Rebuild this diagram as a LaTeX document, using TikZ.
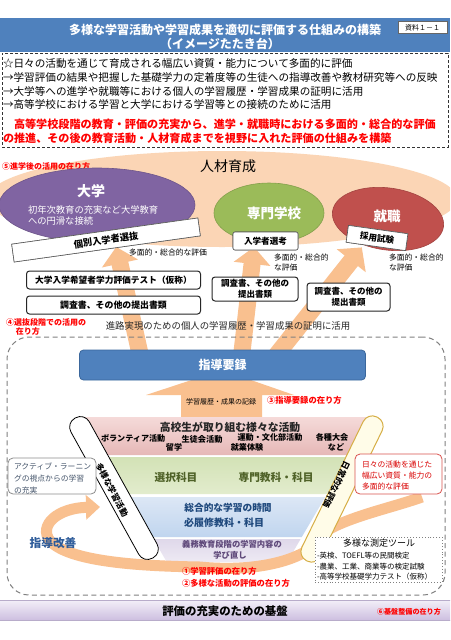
\documentclass[tikz,border=0pt]{standalone}
\usepackage{fontspec}
\setmainfont{Noto Sans CJK JP}
\usetikzlibrary{arrows.meta,calc,shapes.geometric}
\newcommand\fsz[1]{\fontsize{#1pt}{#1pt}\selectfont}
\newcommand\fszl[2]{\fontsize{#1pt}{#2pt}\selectfont}
\definecolor{titleblue}{HTML}{4F81BD}
\definecolor{titleedge}{HTML}{3B679C}
\definecolor{peachbg}{HTML}{FBD5B5}
\definecolor{arrpeach}{HTML}{F9C08F}
\definecolor{univ}{HTML}{8064A2}
\definecolor{senmoncol}{HTML}{9BBB59}
\definecolor{shoku}{HTML}{C0504D}
\definecolor{pinkL}{HTML}{F5DAD9}
\definecolor{pinkD}{HTML}{E6B8B7}
\definecolor{greenL}{HTML}{E2ECCD}
\definecolor{greenD}{HTML}{D3E2B6}
\definecolor{blueL}{HTML}{DCE7F5}
\definecolor{blueD}{HTML}{C0D5EF}
\definecolor{lavL}{HTML}{EEEAF4}
\definecolor{lavD}{HTML}{DFD8EA}
\definecolor{greentext}{HTML}{4F6228}
\definecolor{bluetext}{HTML}{1F497D}
\definecolor{purpletext}{HTML}{5F497A}
\definecolor{kaizenblue}{HTML}{2E5C9A}
\definecolor{pillgold}{HTML}{D6AE45}
\definecolor{pillfill}{HTML}{FFFCE8}
\definecolor{redbox}{HTML}{D9534F}
\definecolor{activetext}{HTML}{44546A}
\definecolor{barL}{HTML}{F3EFF8}
\definecolor{barD}{HTML}{CDBFE0}
\begin{document}
\begin{tikzpicture}[x=1pt,y=-1pt,every node/.style={inner sep=0pt,outer sep=0pt}]
\tikzset{
  card/.style={draw=black!65, fill=white, line width=0.6pt, font=\bfseries\fsz{#1}},
  wbox/.style={draw=black!85, fill=white, line width=1pt, rounded corners=3pt, align=center},
  bigarr/.style={draw=arrpeach, line width=17pt, -{Triangle[width=36pt,length=17pt]}},
  redlbl/.style={text=red, font=\bfseries\fsz{#1}, anchor=west},
  whitetxt/.style={text=white, font=\bfseries\fsz{#1}},
  lbl/.style={font=\fsz{#1}}
}
\useasboundingbox (0,0) rectangle (450,640);
\clip (0,0) rectangle (450,640);
\fill[white] (0,0) rectangle (450,640);

% ---------- title ----------
\node[fill=titleblue, minimum width=450, minimum height=34, anchor=north west] (titlebar) at (0,18) {};
\node[whitetxt=12] (title1) at (225,30) {多様な学習活動や学習成果を適切に評価する仕組みの構築};
\node[whitetxt=12] (title2) at (220,44) {（イメージたたき台）};
\node[draw=black!60, fill=white, minimum width=49, minimum height=12, font=\fsz{7}] (shiryo) at (422.5,27.5) {資料１－１};

% ---------- intro box ----------
\node[draw=black!80, dashed, dash pattern=on 3pt off 2pt, line width=0.9pt, minimum width=446, minimum height=94, anchor=north west] (intro) at (2,53) {};
\node[lbl=10.6, anchor=west] (l1) at (3,63) {☆日々の活動を通じて育成される幅広い資質・能力について多面的に評価};
\node[lbl=10.6, anchor=west] (l2) at (3,77) {→学習評価の結果や把握した基礎学力の定着度等の生徒への指導改善や教材研究等への反映};
\node[lbl=10.6, anchor=west] (l3) at (3,91) {→大学等への進学や就職等における個人の学習履歴・学習成果の証明に活用};
\node[lbl=10.6, anchor=west] (l4) at (3,104) {→高等学校における学習と大学における学習等との接続のために活用};
\node[redlbl=11.1] (r1) at (14,124) {高等学校段階の教育・評価の充実から、進学・就職時における多面的・総合的な評価};
\node[redlbl=11.1] (r2) at (3,138) {の推進、その後の教育活動・人材育成までを視野に入れた評価の仕組みを構築};

% ---------- 人材育成 ----------
\node[ellipse, fill=peachbg, minimum width=470, minimum height=96] (jinzai) at (222,199) {};
\node[lbl=14] (jinzaitext) at (228,166) {人材育成};
\node[redlbl=8] (c5) at (2,166) {⑤進学後の活用の在り方};

\node[ellipse, fill=univ, draw=univ!85!black, line width=0.6pt, minimum width=196, minimum height=74] (daigaku) at (97,205) {};
\node[whitetxt=14] (daigakutext) at (91,191) {大学};
\node[text=white, font=\fszl{9.3}{11}, align=left, anchor=west] (daigakusub) at (28,215.5) {初年次教育の充実など大学教育\\への円滑な接続};

\node[ellipse, fill=senmoncol, draw=senmoncol!85!black, line width=0.6pt, minimum width=110, minimum height=60] (senmon) at (269,213) {};
\node[whitetxt=13.5] (senmontext) at (274,213) {専門学校};

\node[ellipse, fill=shoku, draw=shoku!85!black, line width=0.6pt, rotate=-8, minimum width=112, minimum height=62] (shushoku) at (388,219) {};
\node[whitetxt=13.5] (shushokutext) at (387,216) {就職};

% ---------- 指導要録 and arrows ----------
\coordinate (shidoupos) at (222.5,365);
\node[card=9.3, rotate=8, minimum width=188, minimum height=18] (kobetsu) at (106,240) {};
\node[card=8.6, rounded corners=2pt, minimum width=65, minimum height=18] (nyugaku) at (265.5,241) {};
\node[card=8.6, rotate=-8, minimum width=60, minimum height=17] (saiyo) at (377,238) {};

\path (shidoupos) coordinate (shc);
\draw[bigarr] ($(shc)+(-80,0)$) -- ($(kobetsu.south)+(9,-2)$);
\draw[bigarr] ($(shc)+(18,0)$) -- ($(nyugaku.south)+(-11.5,-3)$);
\draw[bigarr] ($(shc)+(46,0)$) -- ($(saiyo.south)+(-14,1)$);

% cards drawn on top of arrows
\node[card=9.3, rotate=8, minimum width=188, minimum height=18] (kobetsutext) at (kobetsu.center) {個別入学者選抜};
\node[card=8.6, rounded corners=2pt, minimum width=65, minimum height=18] (nyugakutext) at (nyugaku.center) {入学者選考};
\node[card=8.6, rotate=-8, minimum width=60, minimum height=17] (saiyotext) at (saiyo.center) {採用試験};

\node[lbl=7.8, anchor=west] (tm1) at (129,253) {多面的・総合的な評価};
\node[font=\fszl{7.8}{10}, align=left, anchor=west] (tm2) at (274,263) {多面的・総合的\\な評価};
\node[font=\fszl{7.8}{10}, align=left, anchor=west] (tm3) at (389,263) {多面的・総合的\\な評価};

\node[wbox, font=\bfseries\fsz{8.7}, minimum width=174, minimum height=18] (testbox) at (113.5,280) {大学入学希望者学力評価テスト（仮称）};
\node[wbox, font=\bfseries\fsz{8.9}, minimum width=174, minimum height=18] (chosa1) at (113.5,305) {調査書、その他の提出書類};
\node[wbox, font=\bfseries\fszl{8.5}{10.5}, minimum width=86, minimum height=24] (chosa2) at (255,289) {調査書、その他の\\提出書類};
\node[wbox, font=\bfseries\fszl{8.5}{10.5}, minimum width=83, minimum height=28] (chosa3) at (348.5,297) {調査書、その他の\\提出書類};

% ---------- region ----------
\node[redlbl=8] (c4a) at (6,322) {④選抜段階での活用の};
\node[redlbl=8] (c4b) at (16,331) {在り方};
\node[lbl=9.4, text=black!85] (shinro) at (228,326) {進路実現のための個人の学習履歴・学習成果の証明に活用};
\node[draw=black!50, dashed, dash pattern=on 5pt off 3.5pt, line width=1pt, rounded corners=22pt, minimum width=438, minimum height=258, anchor=north west] (region) at (7,337) {};

% block arrow up to 指導要録
\coordinate (funneltop) at (222,417);
\fill[arrpeach] ($(funneltop)+(-41,0)$) -- ($(funneltop)+(-41,-22)$) -- ($(funneltop)+(-76,-22)$) -- ($(funneltop)+(0,-47)$) -- ($(funneltop)+(72,-22)$) -- ($(funneltop)+(40,-22)$) -- ($(funneltop)+(40,0)$) -- cycle;
\node[lbl=7] (rireki) at (221,402) {学習履歴・成果の記録};
\node[redlbl=8.3] (c3) at (267,400) {③指導要録の在り方};

\node[fill=titleblue, draw=titleedge, line width=0.8pt, rounded corners=4pt, minimum width=286, minimum height=30, whitetxt=12] (shidou) at (shidoupos) {指導要録};

% ---------- funnel ----------
\shade[top color=pinkL, bottom color=pinkD] (82,417) -- (372,417) -- (349.8,455) -- (104.2,455) -- cycle;
\shade[top color=greenD, bottom color=greenL] (105.4,457) -- (348.6,457) -- (327,494) -- (127,494) -- cycle;
\shade[top color=blueL, bottom color=blueD] (128.8,497) -- (325.2,497) -- (301.8,537) -- (152.2,537) -- cycle;
\shade[top color=lavD, bottom color=lavL] (153.4,539) -- (300.6,539) -- (287.2,562) -- (166.8,562) -- cycle;

\node[font=\bfseries\fsz{10.8}, text=black!85] (koko) at (230,427) {高校生が取り組む様々な活動};
\node[font=\bfseries\fsz{8.1}, anchor=west] (vol) at (101,438) {ボランティア活動};
\node[font=\bfseries\fsz{8.1}] (ryu) at (174,447) {留学};
\node[font=\bfseries\fsz{8.2}] (seito) at (202,439) {生徒会活動};
\node[font=\bfseries\fsz{8.1}] (undo) at (270,437) {運動・文化部活動};
\node[font=\bfseries\fsz{8.1}] (shugyo) at (247,447) {就業体験};
\node[font=\bfseries\fsz{8.1}] (kakushu) at (332,437) {各種大会};
\node[font=\bfseries\fsz{8.1}] (nado) at (336,447) {など};

\node[font=\bfseries\fsz{10.7}, text=greentext] (sentaku) at (176,477) {選択科目};
\node[font=\bfseries\fsz{10.7}, text=greentext] (senmonka) at (276,477) {専門教科・科目};
\node[font=\bfseries\fsz{9.7}, text=bluetext] (sogo) at (228,508) {総合的な学習の時間};
\node[font=\bfseries\fsz{10}, text=bluetext] (hitsu) at (224,523) {必履修教科・科目};
\node[font=\bfseries\fsz{8.3}, text=purpletext] (gimu) at (232,544) {義務教育段階の学習内容の};
\node[font=\bfseries\fsz{8.3}, text=purpletext] (manabi) at (230,555) {学び直し};

% ---------- loop arrow (指導改善) ----------
\coordinate (loopstart) at (422,497);
\coordinate (loopend) at (100,507);
\draw[arrpeach, line width=11pt, -{Triangle[width=24pt,length=14pt]}] (loopstart) .. controls (380,512) and (318,522) .. (305,552) .. controls (280,566) and (240,571) .. (200,567) .. controls (140,566) and (70,562) .. (50,541) .. controls (38,525) and (58,508) .. (loopend);

% ---------- pills ----------
\node[draw=black, fill=white, line width=0.8pt, rounded corners=10pt, rotate=-61, minimum width=160, minimum height=21] (tayo) at (114,488) {};
\node[font=\bfseries\fsz{8.4}, rotate=-62] (tayotext) at (112,490) {多様な学習活動};
\node[draw=pillgold, fill=pillfill, line width=1pt, rounded corners=10pt, rotate=-26, minimum width=21, minimum height=160] (nichijo) at (342,489) {};
\node[font=\bfseries\fsz{8.4}, rotate=-116] (nichijotext) at (336.5,485) {日常的な評価};

% ---------- side boxes ----------
\node[draw=black!45, line width=0.8pt, fill=white, rounded corners=5pt, minimum width=88, minimum height=36, anchor=north west] (active) at (8,458) {};
\node[font=\fszl{7.8}{12}, text=activetext, align=left, anchor=west] (activetext) at (14,478) {アクティブ・ラーニン\\グの視点からの学習\\の充実};
\node[draw=redbox, line width=0.8pt, fill=white, rounded corners=5pt, minimum width=87, minimum height=40, anchor=north west] (hibi) at (355,454) {};
\node[font=\fszl{7.8}{11}, text=red!85!black, align=left, anchor=west] (hibitext) at (362,476) {日々の活動を通じた\\幅広い資質・能力の\\多面的な評価};

\node[draw=black!50, dotted, line width=0.9pt, fill=white, minimum width=127, minimum height=45, anchor=north west] (tools) at (315,537) {};
\node[lbl=9] (tooltitle) at (379,543) {多様な測定ツール};
\node[lbl=7.5, anchor=west] (tool1) at (317,556) {-英検、TOEFL等の民間検定};
\node[lbl=7.5, anchor=west] (tool2) at (317,566.5) {-農業、工業、商業等の検定試験};
\node[lbl=7.5, anchor=west] (tool3) at (317,577) {-高等学校基礎学力テスト（仮称）};

\node[font=\bfseries\fsz{11.7}, text=kaizenblue] (kaizen) at (53,543) {指導改善};
\node[redlbl=8.3] (c1) at (182,571) {①学習評価の在り方};
\node[redlbl=8.3] (c2) at (182,583) {②多様な活動の評価の在り方};

% ---------- bottom bar ----------
\node[top color=barL, bottom color=barD, draw=barD!90!black, line width=0.5pt, minimum width=452, minimum height=20, anchor=north west] (kiban) at (-1,600) {};
\node[font=\bfseries\fsz{11.4}] (kibantext) at (225,611) {評価の充実のための基盤};
\node[redlbl=7.1] (c6) at (377,612) {⑥基盤整備の在り方};
\end{tikzpicture}
\end{document}
